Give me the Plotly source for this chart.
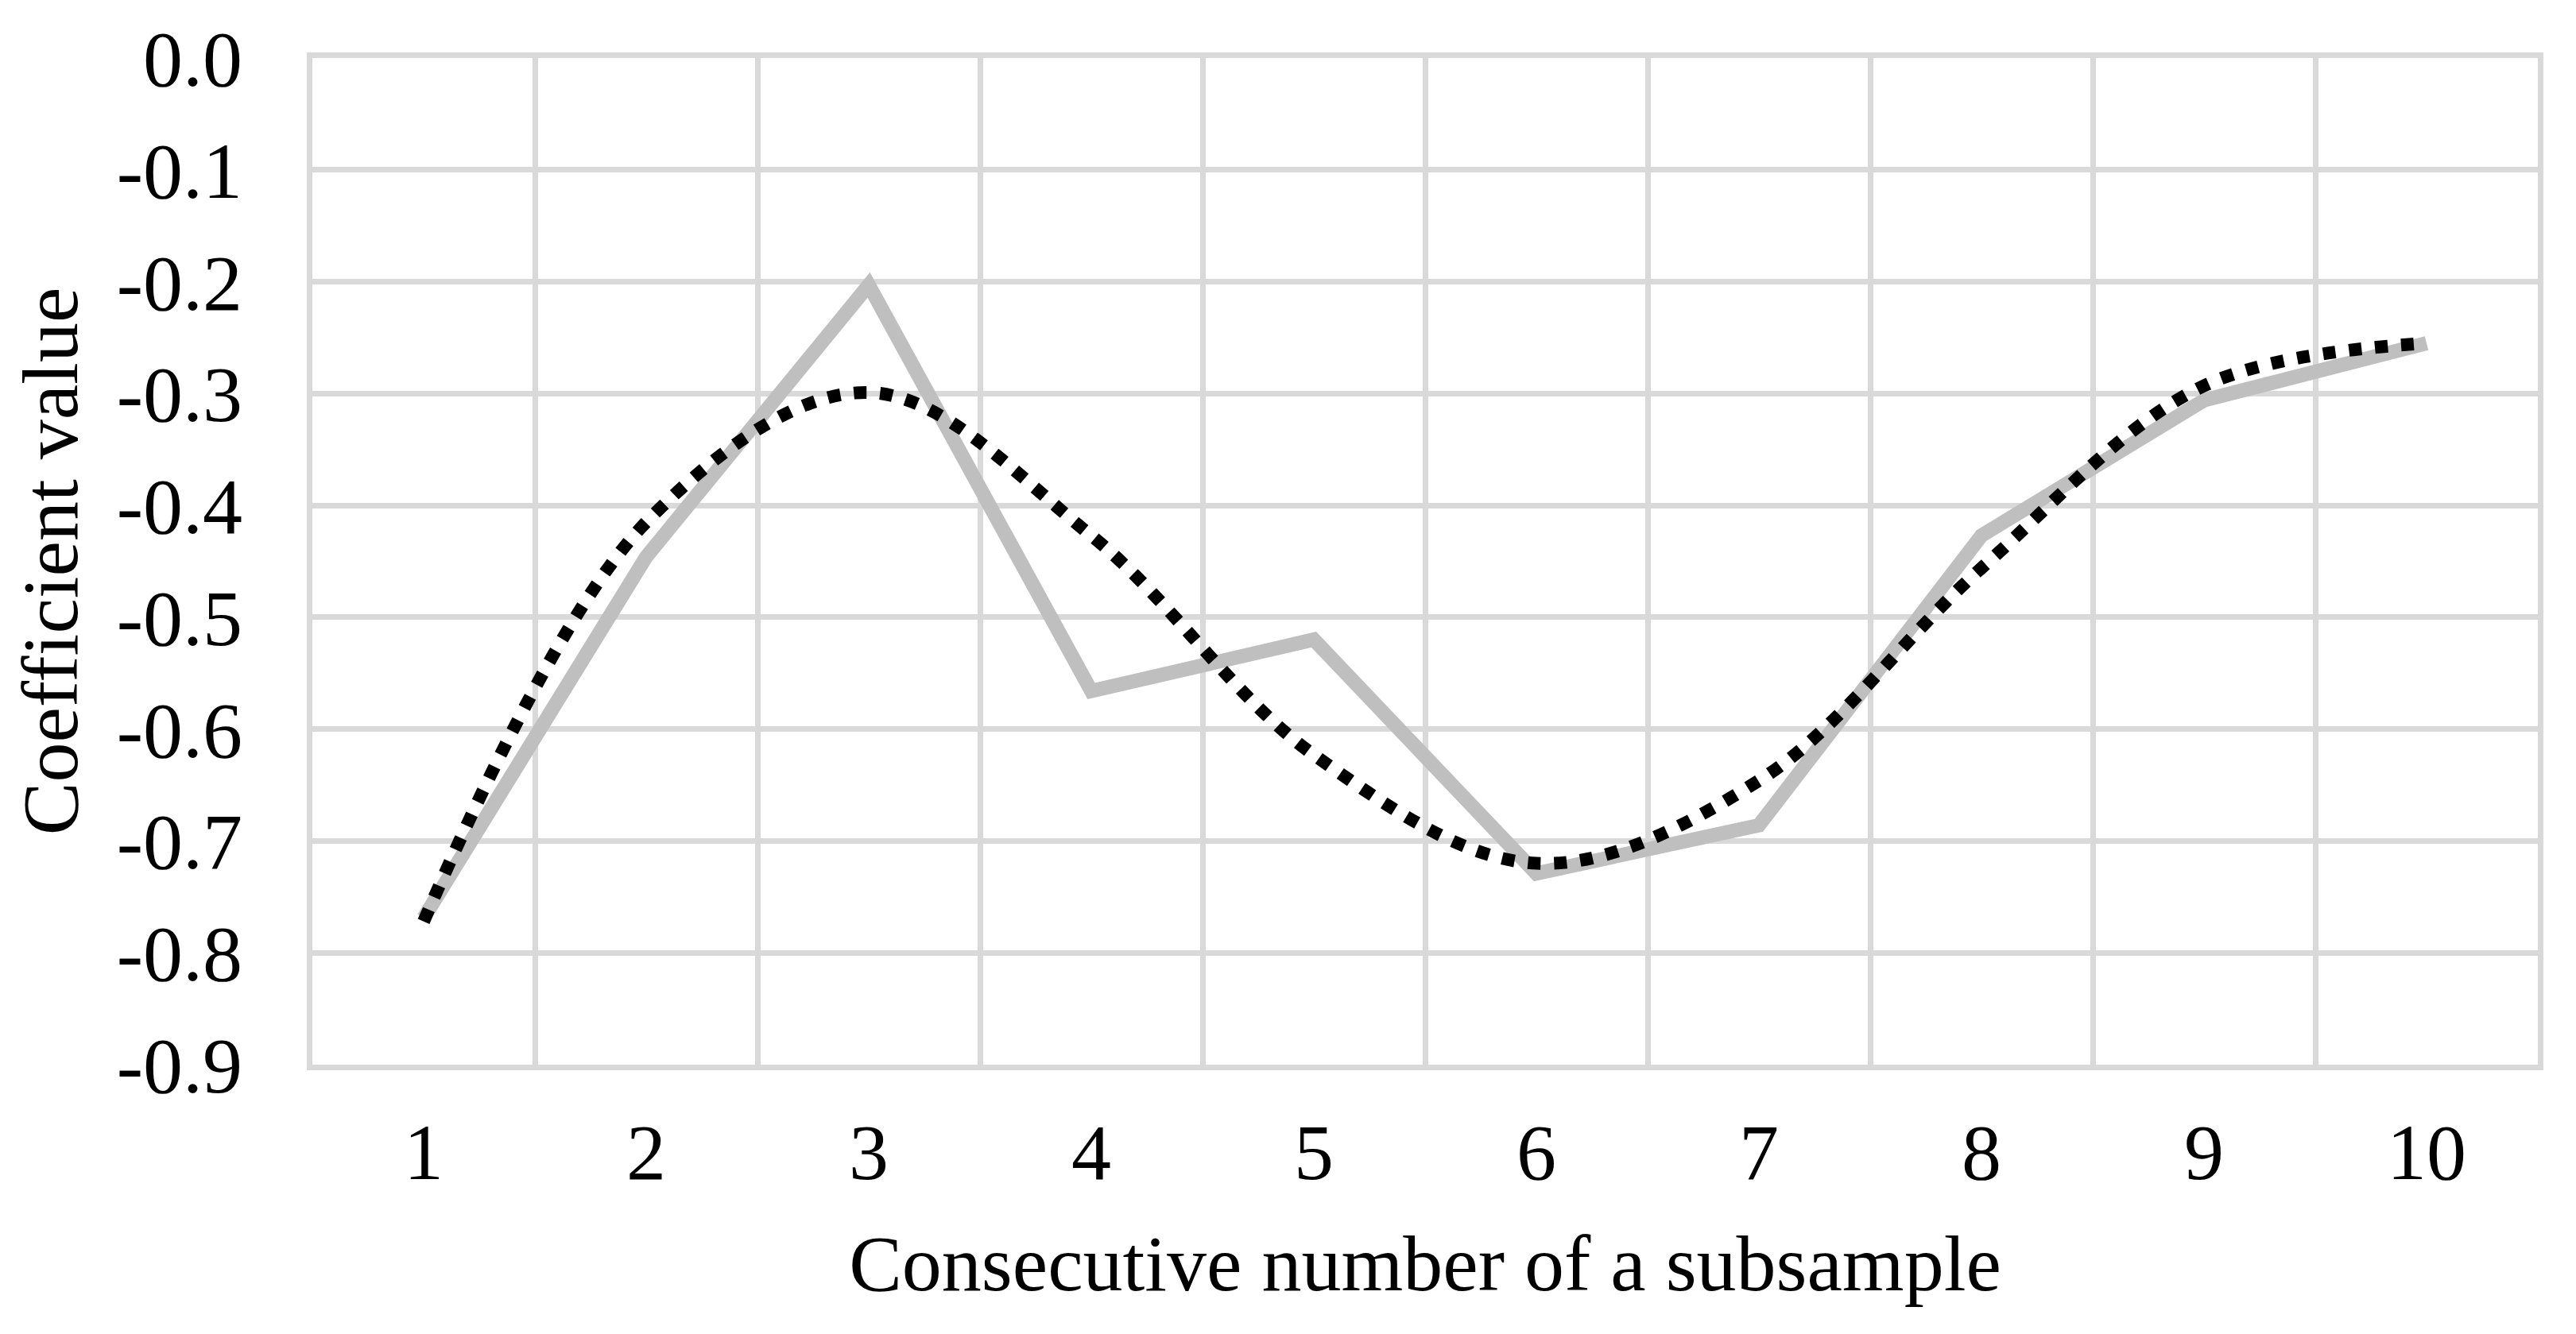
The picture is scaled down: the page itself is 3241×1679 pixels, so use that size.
import plotly.graph_objects as go

subsamples = ["1", "2", "3", "4", "5", "6", "7", "8", "9", "10"]
coefficient = [-0.769, -0.446, -0.203, -0.566, -0.520, -0.729, -0.686, -0.427, -0.306, -0.255]
smoothed = [-0.772, -0.415, -0.299, -0.427, -0.623, -0.720, -0.646, -0.456, -0.293, -0.255]
y_tick_values = [0.0, -0.1, -0.2, -0.3, -0.4, -0.5, -0.6, -0.7, -0.8, -0.9]
y_tick_labels = ["0.0", "-0.1", "-0.2", "-0.3", "-0.4", "-0.5", "-0.6", "-0.7", "-0.8", "-0.9"]

FONT = "Liberation Serif, Times New Roman, serif"
GRID = "#D9D9D9"

fig = go.Figure()
fig.add_trace(go.Scatter(
    x=subsamples, y=coefficient, mode="lines",
    line=dict(color="#BFBFBF", width=18),
    showlegend=False, hoverinfo="skip",
))
fig.add_trace(go.Scatter(
    x=subsamples, y=smoothed, mode="lines",
    line=dict(color="#000000", width=16, dash="16px,17px", shape="spline", smoothing=1.0),
    showlegend=False, hoverinfo="skip",
))

# page body has an 8px default margin; figure size/margins compensate for it
fig.update_layout(
    width=3225, height=1663,
    margin=dict(l=385, r=40, t=65, b=331),
    paper_bgcolor="white", plot_bgcolor="white",
    font=dict(family=FONT, size=100, color="black"),
    xaxis=dict(
        type="category",
        tickson="boundaries",
        showgrid=True, gridcolor=GRID, gridwidth=7,
        showline=True, linecolor=GRID, linewidth=7, mirror=True,
        ticks="", ticklabelstandoff=17,
        tickfont=dict(family=FONT, size=100, color="black"),
        title=dict(text="Consecutive number of a subsample", standoff=51,
                   font=dict(family=FONT, size=100, color="black")),
        range=[-0.5, 9.5],
    ),
    yaxis=dict(
        range=[-0.9, 0.0],
        tickvals=y_tick_values, ticktext=y_tick_labels,
        showgrid=True, gridcolor=GRID, gridwidth=7,
        zeroline=False,
        showline=True, linecolor=GRID, linewidth=7, mirror=True,
        ticks="", ticklabelstandoff=61,
        tickfont=dict(family=FONT, size=100, color="black"),
        title=dict(text="Coefficient value", standoff=30,
                   font=dict(family=FONT, size=100, color="black")),
    ),
)

fig.write_html("out.html")
